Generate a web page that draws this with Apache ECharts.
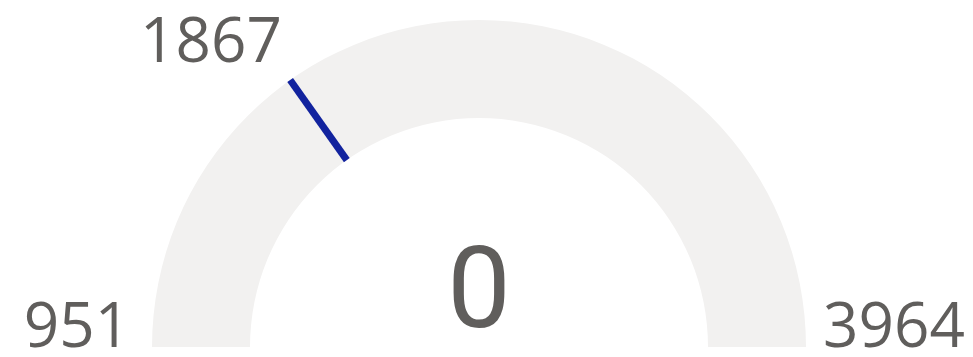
<!DOCTYPE html>
<html>
<head>
<meta charset="utf-8">
<script src="https://cdn.jsdelivr.net/npm/echarts@6/dist/echarts.min.js"></script>
<style>
  html, body { margin: 0; padding: 0; background: #fff; }
  #chart { width: 973px; height: 357px; }
</style>
</head>
<body>
<div id="chart"></div>
<script>
// Gauge values
const gaugeMin = 951;
const gaugeMax = 3964;
const currentValue = 0;
const targetValue = 1867;

const textColor = '#605E5C';
const labelFont = '"Open Sans", "Noto Sans", sans-serif';
const center = [479, 347];
const radius = 327;

const chart = echarts.init(document.getElementById('chart'));

const hidden = {
  splitLine: { show: false },
  axisTick: { show: false },
  axisLabel: { show: false },
  anchor: { show: false },
  title: { show: false }
};

chart.setOption({
  animation: false,
  series: [
    {
      // background band + central value callout
      type: 'gauge',
      center: center,
      radius: radius,
      startAngle: 180,
      endAngle: 0,
      min: gaugeMin,
      max: gaugeMax,
      axisLine: { lineStyle: { width: 98, color: [[1, '#F2F1F0']] } },
      progress: { show: false },
      pointer: { show: false },
      ...hidden,
      detail: {
        formatter: '{value}',
        fontFamily: 'Roboto, sans-serif',
        fontWeight: 'normal',
        fontSize: 113,
        color: textColor,
        offsetCenter: [0, -48]
      },
      data: [{ value: currentValue }]
    },
    {
      // target marker and its label
      type: 'gauge',
      center: center,
      radius: radius,
      startAngle: 180,
      endAngle: 0,
      min: gaugeMin,
      max: gaugeMax,
      axisLine: { show: false },
      progress: { show: false },
      ...hidden,
      pointer: {
        show: true,
        icon: 'rect',
        width: 7,
        length: '30%',
        offsetCenter: [0, '-70%'],
        itemStyle: { color: '#12239E' }
      },
      detail: {
        formatter: '{value}',
        fontFamily: labelFont,
        fontWeight: 'normal',
        fontSize: 62,
        color: textColor,
        offsetCenter: [-268, -303]
      },
      data: [{ value: targetValue }]
    },
    {
      // min / max labels
      type: 'gauge',
      center: center,
      radius: radius,
      startAngle: 180,
      endAngle: 0,
      min: gaugeMin,
      max: gaugeMax,
      axisLine: { show: false },
      progress: { show: false },
      pointer: { show: false },
      ...hidden,
      detail: {
        formatter: '{value}',
        fontFamily: labelFont,
        fontWeight: 'normal',
        fontSize: 62,
        color: textColor
      },
      data: [
        { value: gaugeMin, detail: { offsetCenter: [-402, -18] } },
        { value: gaugeMax, detail: { offsetCenter: [415, -18] } }
      ]
    }
  ]
});
</script>
</body>
</html>
